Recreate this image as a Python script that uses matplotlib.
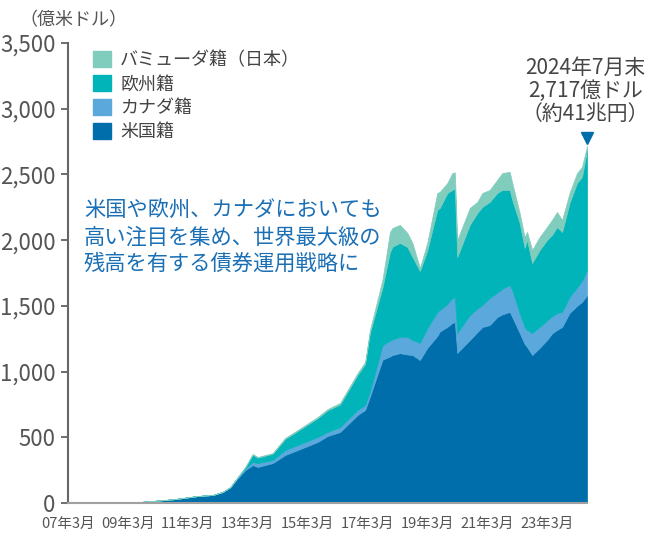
import numpy as np
import pandas as pd
import matplotlib
matplotlib.use("Agg")
import matplotlib.pyplot as plt
import matplotlib.patches as mpatches
import matplotlib.transforms as mtransforms

plt.rcParams['font.family'] = ['Noto Sans CJK JP', 'DejaVu Sans']

# month, cumulative tops (億米ドル)
months = ["2007-03", "2009-03", "2009-05", "2010-06", "2010-10", "2011-07", "2012-01",
          "2012-05", "2012-08", "2012-11", "2013-02", "2013-05", "2013-07", "2014-01",
          "2014-06", "2014-11", "2015-07", "2015-11", "2016-04", "2016-11", "2017-02",
          "2017-04", "2017-09", "2017-12", "2018-01", "2018-04", "2018-07", "2018-09",
          "2018-12", "2019-03", "2019-07", "2019-08", "2019-11", "2020-01", "2020-02",
          "2020-03", "2020-08", "2020-11", "2021-01", "2021-04", "2021-07", "2021-09",
          "2021-12", "2022-01", "2022-04", "2022-06", "2022-07", "2022-09", "2022-12",
          "2023-03", "2023-05", "2023-07", "2023-09", "2023-12", "2024-03", "2024-05",
          "2024-07"]

us_top = [0, 0, 3, 23, 30, 53, 61, 84, 118, 190, 251, 289, 274, 304, 365, 403, 464, 510,
          540, 670, 708, 810, 1090, 1115, 1126, 1140, 1130, 1126, 1088, 1180, 1270, 1305,
          1340, 1370, 1377, 1142, 1240, 1300, 1339, 1354, 1415, 1435, 1454, 1415, 1294,
          1210, 1187, 1126, 1180, 1240, 1290, 1317, 1339, 1446, 1500, 1530, 1580]
canada_top = [0, 0, 3, 23, 30, 53, 61, 84, 120, 196, 262, 312, 304, 327, 403, 441, 502, 540,
              578, 708, 746, 850, 1200, 1235, 1245, 1263, 1265, 1240, 1218, 1330, 1454, 1469,
              1515, 1560, 1565, 1294, 1431, 1480, 1507, 1560, 1600, 1630, 1659, 1621, 1446,
              1340, 1317, 1294, 1340, 1390, 1420, 1446, 1454, 1568, 1640, 1690, 1773]
europe_top = [0, 0, 3, 23, 30, 53, 61, 84, 121, 197, 272, 368, 345, 375, 488, 548, 645, 705,
              750, 975, 1058, 1295, 1640, 1910, 1950, 1979, 1948, 1872, 1765, 1920, 2230, 2245,
              2359, 2382, 2390, 1872, 2116, 2207, 2253, 2291, 2359, 2382, 2382, 2306, 2131,
              1941, 2001, 1826, 1925, 2001, 2039, 2100, 2062, 2283, 2435, 2481, 2686]
total = [0, 0, 3, 23, 30, 53, 61, 84, 122, 198, 274, 373, 350, 380, 495, 555, 654, 715,
         761, 989, 1073, 1317, 1700, 2062, 2093, 2116, 2055, 1979, 1788, 1979, 2359, 2367,
         2435, 2511, 2515, 2001, 2245, 2291, 2359, 2382, 2458, 2511, 2519, 2435, 2207,
         2024, 2062, 1925, 2024, 2100, 2154, 2214, 2154, 2359, 2511, 2557, 2717]

labels = ["米国籍", "カナダ籍", "欧州籍", "バミューダ籍（日本）"]
colors = ["#006eab", "#5ba8dc", "#00b4b9", "#80cdbd"]

dates = pd.to_datetime(months)
us = np.array(us_top)
canada = np.array(canada_top) - np.array(us_top)
europe = np.array(europe_top) - np.array(canada_top)
bermuda = np.array(total) - np.array(europe_top)

fig = plt.figure(figsize=(6.51, 5.33), dpi=100)
ax = fig.add_axes([68/651, 1-503/533, (587-68)/651, (503-43)/533])

polys = ax.stackplot(dates, us, canada, europe, bermuda, colors=colors)
for p, c in zip(polys, colors):
    p.set_edgecolor(c)
    p.set_linewidth(0.5)

ax.set_xlim(dates[0], dates[-1])
ax.set_ylim(0, 3500)
ax.set_yticks(np.arange(0, 3501, 500))
ax.set_yticklabels([f"{v:,}" for v in range(0, 3501, 500)])
tick_years = list(range(2007, 2024, 2))
ax.set_xticks(pd.to_datetime([f"{y}-03" for y in tick_years]))
ax.set_xticklabels([f"{y % 100:02d}年3月" for y in tick_years])

for s in ["top", "right"]:
    ax.spines[s].set_visible(False)
ax.spines["left"].set_color("#666666")
ax.spines["left"].set_linewidth(1.5)
ax.spines["bottom"].set_color("#a0a0a0")
ax.spines["bottom"].set_linewidth(1.5)
ax.tick_params(axis="y", colors="#555555", labelsize=16, length=5, width=1.2, pad=4)
ax.tick_params(axis="x", colors="#555555", labelsize=10.5, length=0, pad=10)

fig.text(19/651, 1-20/533, "（億米ドル）", fontsize=13, color="#555555", va="center", ha="left")

handles = [mpatches.Patch(color=colors[i], label=labels[i]) for i in [3, 2, 1, 0]]
leg = fig.legend(handles=handles, loc="upper left", bbox_to_anchor=(93/651, 1-51/533),
                 frameon=False, fontsize=13, handlelength=1.0, handleheight=1.0,
                 handletextpad=0.5, labelspacing=0.32, borderpad=0, borderaxespad=0)
for t in leg.get_texts():
    t.set_color("#444444")

fig.text(84/651, 1-200/533, "米国や欧州、カナダにおいても\n高い注目を集め、世界最大級の\n残高を有する債券運用戦略に",
         fontsize=15.3, color="#1a6fb5", va="top", ha="left", linespacing=1.25)

ax.plot([dates[-1]], [total[-1]], marker="v", markersize=9, color="#006eab", clip_on=False,
        transform=ax.transData + mtransforms.ScaledTranslation(0, 6/72, fig.dpi_scale_trans))
ax.annotate("2024年7月末\n2,717億ドル\n（約41兆円）", xy=(dates[-1], total[-1]), xytext=(-1, 15),
            textcoords="offset points", ha="center", va="bottom", fontsize=15,
            color="#454545", linespacing=1.05, annotation_clip=False)

fig.savefig("out.png", dpi=100)
